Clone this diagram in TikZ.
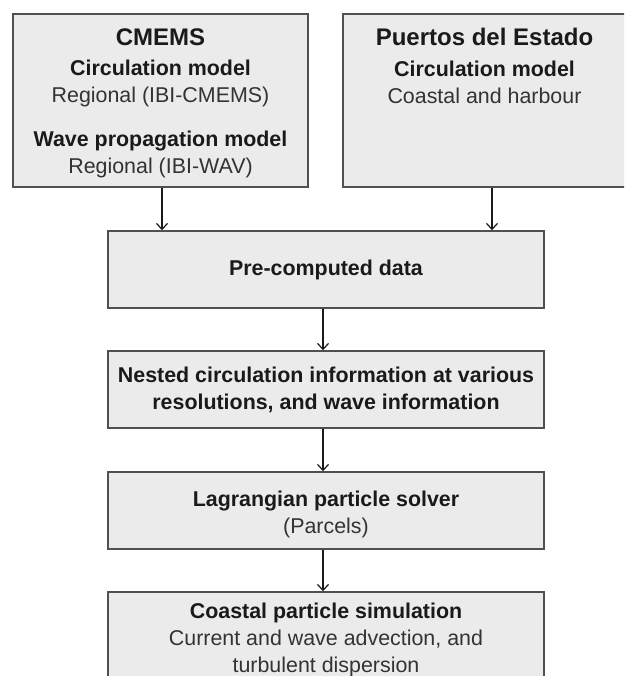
\documentclass[tikz,border=0pt]{standalone}
\usepackage{fontspec}
\setmainfont{Liberation Sans}
\usetikzlibrary{arrows.meta}
\definecolor{boxfill}{HTML}{EBEBEB}
\definecolor{boxline}{HTML}{505050}
\definecolor{darktext}{HTML}{1A1A1A}
\definecolor{softtext}{HTML}{333333}
\begin{document}
\begin{tikzpicture}[x=1pt,y=-1pt,
  panel/.style={draw=boxline, fill=boxfill, line width=1.5pt, inner sep=0pt, rectangle},
  boxtext/.style={inner sep=0pt, align=center, font=\fontsize{21.4}{27}\selectfont, text=softtext},
  head/.style={font=\fontsize{21.4}{27}\selectfont\bfseries, text=darktext},
  flow/.style={draw=darktext, line width=1.2pt, -{Straight Barb[length=6pt,width=11pt,line width=1.2pt]}}]
\clip (0,0) rectangle (624,676);
\fill[white] (0,0) rectangle (624,676);
% boxes
\node[panel, minimum width=295pt, minimum height=173pt] (cmems) at (160.5,100.5) {};
\node[panel, minimum width=283pt, minimum height=173pt] (puertos) at (484.5,100.5) {};
\node[panel, minimum width=436pt, minimum height=77pt] (pre) at (326,269.5) {};
\node[panel, minimum width=436pt, minimum height=77pt] (nested) at (326,389.5) {};
\node[panel, minimum width=436pt, minimum height=77pt] (lagr) at (326,510.5) {};
\node[panel, minimum width=436pt, minimum height=108pt] (coastal) at (326,646) {};
% texts
\node[boxtext, anchor=north] (cmemsT) at (160.5,29)
  {{\fontsize{24}{27}\selectfont\bfseries\color{darktext}CMEMS}\\[3pt]
   {\bfseries\color{darktext}Circulation model}\\
   Regional (IBI-CMEMS)\\[17pt]
   {\bfseries\color{darktext}Wave propagation model}\\
   Regional (IBI-WAV)};
\node[boxtext, anchor=north] (puertosT) at (484.5,27.5)
  {{\fontsize{24}{27}\selectfont\bfseries\color{darktext}Puertos del Estado}\\[4pt]
   {\bfseries\color{darktext}Circulation model}\\
   Coastal and harbour};
\node[boxtext, head] (preT) at (pre.center) {Pre-computed data};
\node[boxtext, head] (nestedT) at (nested.center)
  {Nested circulation information at various\\resolutions, and wave information};
\node[boxtext, anchor=north] (lagrT) at (326,490.7)
  {{\bfseries\color{darktext}Lagrangian particle solver}\\(Parcels)};
\node[boxtext, anchor=north] (coastalT) at (326,603)
  {{\bfseries\color{darktext}Coastal particle simulation}\\
   Current and wave advection, and\\turbulent dispersion};
% connector columns
\coordinate (lcol) at (162,0);
\coordinate (rcol) at (492,0);
\coordinate (mcol) at (323,0);
\draw[flow] (cmems.south -| lcol) -- (pre.north -| lcol);
\draw[flow] (puertos.south -| rcol) -- (pre.north -| rcol);
\draw[flow] (pre.south -| mcol) -- (nested.north -| mcol);
\draw[flow] (nested.south -| mcol) -- (lagr.north -| mcol);
\draw[flow] (lagr.south -| mcol) -- (coastal.north -| mcol);
\end{tikzpicture}
\end{document}
